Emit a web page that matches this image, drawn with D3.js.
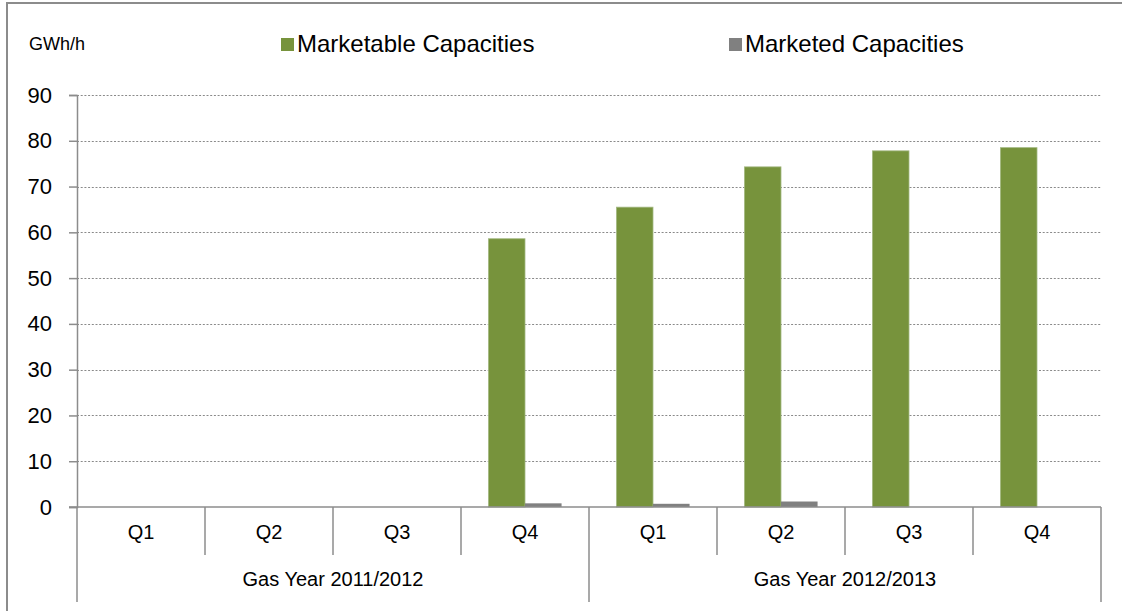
<!DOCTYPE html>
<html>
<head>
<meta charset="utf-8">
<script src="https://cdn.jsdelivr.net/npm/d3@7"></script>
<style>
  body { margin: 0; background: #fff; }
  svg { font-family: "Liberation Sans", Arial, sans-serif; }
</style>
</head>
<body>
<div id="chart"></div>
<script>
// DATA

var years = ["Gas Year 2011/2012", "Gas Year 2012/2013"];
var quarters = ["Q1", "Q2", "Q3", "Q4"];
var seriesNames = ["Marketable Capacities", "Marketed Capacities"];
var marketable = [null, null, null, 58.6, 65.5, 74.3, 77.8, 78.5];
var marketed = [null, null, null, 0.8, 0.7, 1.2, 0, 0];
var yTicks = [0, 10, 20, 30, 40, 50, 60, 70, 80, 90];
var unitLabel = "GWh/h";

var colors = ["#77933c", "#808080"];

// build rows
var rows = [];
years.forEach(function (yr, i) {
    quarters.forEach(function (q, j) {
        var k = i * quarters.length + j;
        rows.push({ key: k, year: yr, q: q, values: [marketable[k], marketed[k]] });
    });
});

// LAYOUT

var width = 1122;
var height = 611;
var plotLeft = 77, plotRight = 1101, plotTop = 95, plotBottom = 507;

var svg = d3.select("#chart")
    .append("svg")
    .attr("width", width)
    .attr("height", height);

var x0 = d3.scaleBand()
    .domain(rows.map(function (d) { return d.key; }))
    .range([plotLeft, plotRight]);

var x1 = d3.scaleBand()
    .domain([0, 1])
    .range([0, x0.bandwidth()])
    .paddingOuter(0.75);

var y = d3.scaleLinear()
    .domain([0, 90])
    .range([plotBottom, plotTop]);

// outer chart border
svg.append("path")
    .attr("d", "M7," + height + "V3H" + width)
    .attr("fill", "none")
    .attr("stroke", "#8c8c8c")
    .attr("stroke-width", 2);

// gridlines
svg.append("g")
    .selectAll("line")
    .data(yTicks.filter(function (t) { return t > 0; }))
    .join("line")
    .attr("x1", plotLeft)
    .attr("x2", plotRight)
    .attr("y1", function (d) { return Math.round(y(d)) + 0.5; })
    .attr("y2", function (d) { return Math.round(y(d)) + 0.5; })
    .attr("stroke", "#8a8a8a")
    .attr("stroke-width", 1)
    .attr("stroke-dasharray", "2,1.7");

// y axis
var yAxis = svg.append("g")
    .attr("transform", "translate(" + plotLeft + ",0)")
    .call(d3.axisLeft(y).tickValues(yTicks).tickSize(8).tickPadding(17));
yAxis.select(".domain").attr("stroke", "#8c8c8c").attr("stroke-width", 1.5);
yAxis.selectAll(".tick line").attr("stroke", "#8c8c8c").attr("stroke-width", 1.5);
yAxis.selectAll(".tick text")
    .attr("font-size", 22)
    .attr("fill", "#000")
    .style("font-family", "Liberation Sans, Arial, sans-serif");

// bars
var groups = svg.append("g")
    .selectAll("g")
    .data(rows)
    .join("g")
    .attr("transform", function (d) { return "translate(" + x0(d.key) + ",0)"; });

groups.selectAll("rect")
    .data(function (d) {
        return d.values.map(function (v, i) { return { i: i, v: v }; })
            .filter(function (e) { return e.v; });
    })
    .join("rect")
    .attr("x", function (d) { return x1(d.i); })
    .attr("width", x1.bandwidth())
    .attr("y", function (d) { return y(d.v); })
    .attr("height", function (d) { return y(0) - y(d.v); })
    .attr("fill", function (d) { return colors[d.i]; })
    .attr("stroke", function (d) { return d.i === 0 ? "#a3b882" : "none"; })
    .attr("stroke-width", 0.8);

// category axis
var axisColor = "#8c8c8c";
svg.append("line")
    .attr("x1", plotLeft - 8).attr("x2", plotRight)
    .attr("y1", plotBottom).attr("y2", plotBottom)
    .attr("stroke", axisColor).attr("stroke-width", 1.5);

var bounds = d3.range(rows.length + 1);
svg.append("g")
    .selectAll("line")
    .data(bounds)
    .join("line")
    .attr("x1", function (d) { return plotLeft + d * x0.step(); })
    .attr("x2", function (d) { return plotLeft + d * x0.step(); })
    .attr("y1", plotBottom)
    .attr("y2", function (d) { return d % quarters.length === 0 ? 602 : 555; })
    .attr("stroke", axisColor)
    .attr("stroke-width", 1.5);

svg.append("g")
    .selectAll("text")
    .data(rows)
    .join("text")
    .attr("x", function (d) { return x0(d.key) + x0.bandwidth() / 2; })
    .attr("y", 539)
    .attr("text-anchor", "middle")
    .attr("font-size", 20)
    .text(function (d) { return d.q; });

svg.append("g")
    .selectAll("text")
    .data(years)
    .join("text")
    .attr("x", function (d, i) {
        return plotLeft + (i + 0.5) * quarters.length * x0.step();
    })
    .attr("y", 586)
    .attr("text-anchor", "middle")
    .attr("font-size", 20)
    .text(function (d) { return d; });

// unit label
svg.append("text")
    .attr("x", 29)
    .attr("y", 50)
    .attr("font-size", 18)
    .text(unitLabel);

// legend
var legendX = [281, 729];
var legend = svg.append("g")
    .selectAll("g")
    .data(seriesNames)
    .join("g")
    .attr("transform", function (d, i) { return "translate(" + legendX[i] + ",0)"; });

legend.append("rect")
    .attr("x", 0).attr("y", 38)
    .attr("width", 13).attr("height", 13)
    .attr("fill", function (d, i) { return colors[i]; });

legend.append("text")
    .attr("x", 16)
    .attr("y", 52)
    .attr("font-size", 24)
    .text(function (d) { return d; });
</script>
</body>
</html>
